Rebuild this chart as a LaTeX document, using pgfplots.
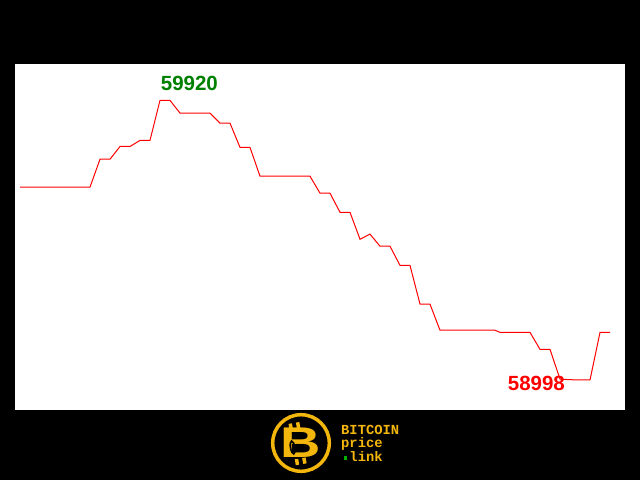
\documentclass[border=0pt]{standalone}
\usepackage{pgfplots}
\pgfplotsset{compat=1.18}
\usepackage{fontspec}
\setmainfont{Liberation Sans}
\newfontfamily\monofont{Liberation Mono}
\definecolor{gold}{RGB}{242,182,12}
\definecolor{dgreen}{RGB}{0,128,0}
\begin{document}
\begin{tikzpicture}[x=1pt,y=1pt]
\fill[black] (0,0) rectangle (640,480);
\begin{axis}[at={(15pt,70pt)}, anchor=south west, scale only axis,
  width=610pt, height=346pt, xmin=-0.5, xmax=60.5, ymin=58899, ymax=60040,
  axis background/.style={fill=white}, axis line style={draw=none},
  ticks=none, clip=false]
\addplot[red, line width=1pt, mark=none] coordinates {
(0,59634) (1,59634) (2,59634) (3,59634) (4,59634) (5,59634) (6,59634) (7,59634)
(8,59726) (9,59726) (10,59768) (11,59768) (12,59788) (13,59788)
(14,59920) (15,59920) (16,59878) (17,59878) (18,59878) (19,59878)
(20,59845) (21,59845) (22,59765) (23,59765)
(24,59670) (25,59670) (26,59670) (27,59670) (28,59670) (29,59670)
(30,59614) (31,59614) (32,59551) (33,59551) (34,59462) (35,59479)
(36,59439) (37,59439) (38,59376) (39,59376) (40,59248) (41,59248)
(42,59162) (43,59162) (44,59162) (45,59162) (46,59162) (47,59162) (47.5,59162)
(48,59155) (49,59155) (50,59155) (51,59155)
(52,59099) (53,59099) (54,59001) (55,58999) (56,58998) (57,58998)
(58,59155) (59,59155)
};
\node[anchor=west, inner sep=0pt, text=dgreen, font=\fontsize{20.5}{22}\selectfont\bfseries] at (axis cs:14.07,59976) {59920};
\node[anchor=west, inner sep=0pt, text=red, font=\fontsize{20.5}{22}\selectfont\bfseries] at (axis cs:48.77,58988) {58998};
\end{axis}
% logo
\draw[gold, line width=3.5pt] (301,37) circle (28.3);
\begin{scope}[shift={(301,37)}, rotate=10]
\fill[gold] (-9,15) rectangle (-5.5,21);
\fill[gold] (-1.5,15) rectangle (2,21);
\fill[gold] (-9,-21) rectangle (-5.5,-15);
\fill[gold] (-1.5,-21) rectangle (2,-15);
\node[text=gold, inner sep=0pt, xscale=1.3, font=\fontsize{43}{44}\selectfont\bfseries] at (0,0) {B};
\draw[black, line width=1.6pt] (-9,-3) ellipse (2.2 and 6.5);
\end{scope}
\node[anchor=north west, inner sep=0pt, text=gold, align=left,
  font=\monofont\fontsize{13.8}{13.6}\selectfont\bfseries] at (341,55.2)
  {BITCOIN\\price\\\phantom{x}link};
\fill[green!70!black] (343.5,20.5) rectangle (347,24);
\end{tikzpicture}
\end{document}
